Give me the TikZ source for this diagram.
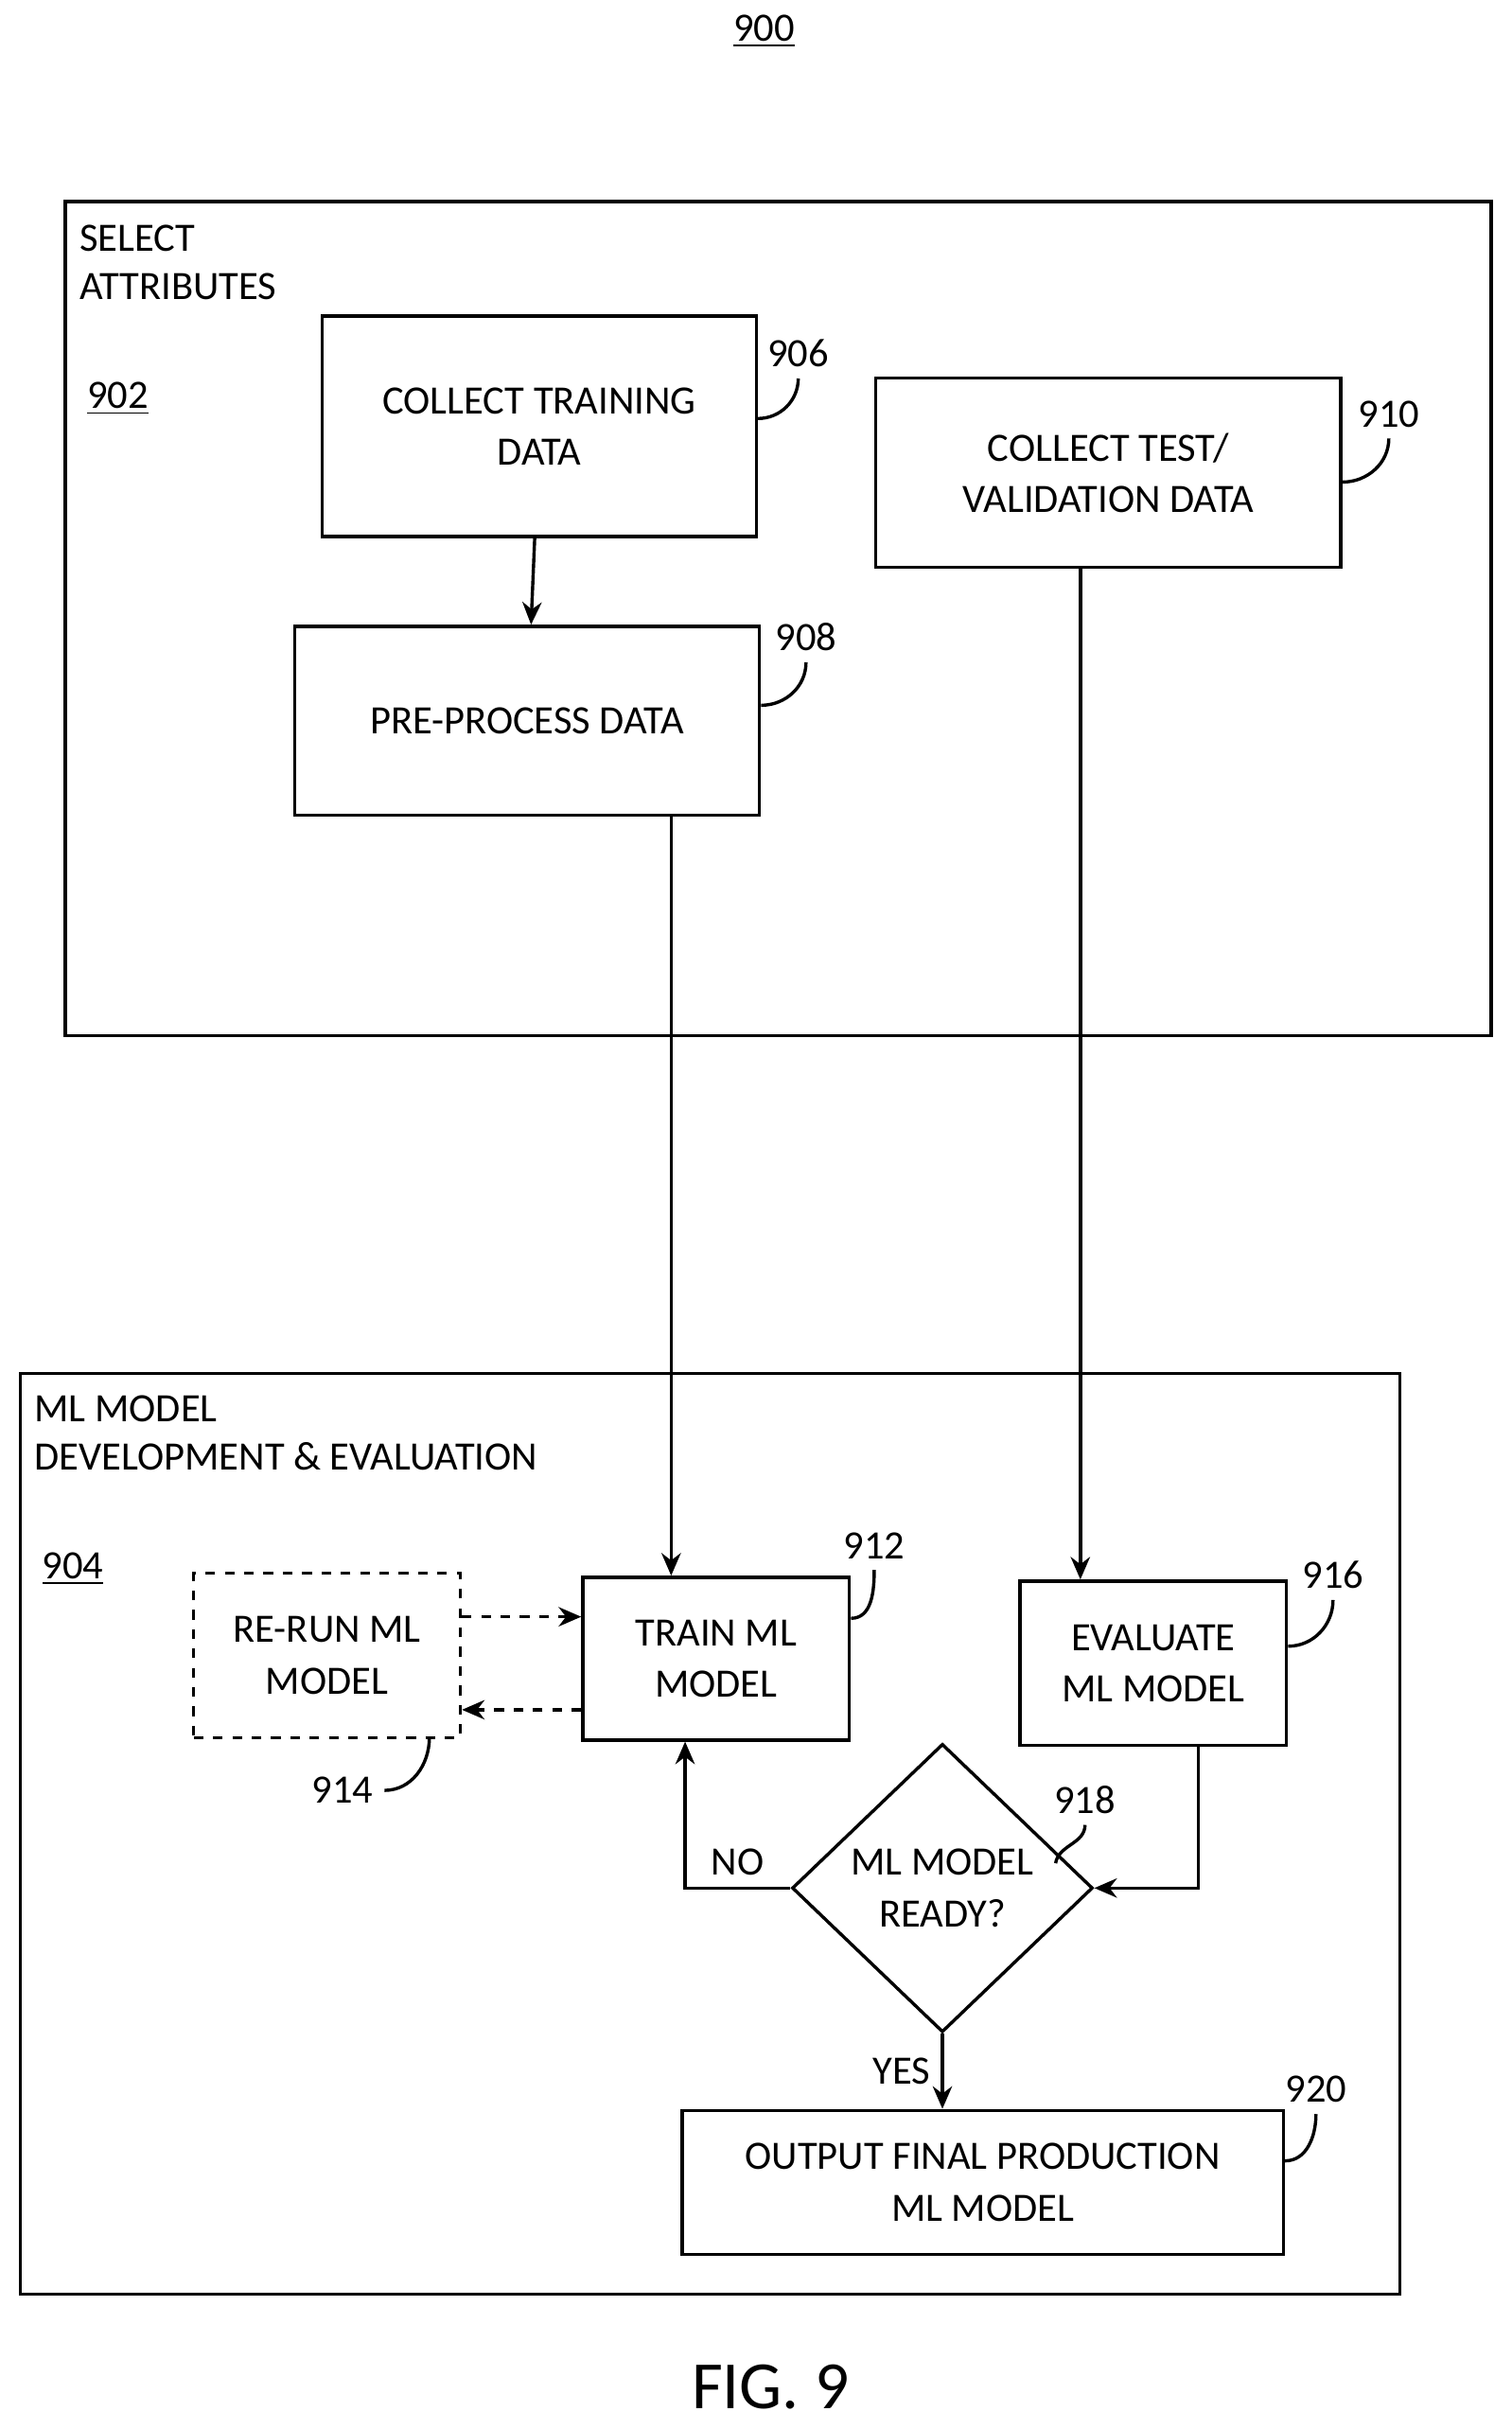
\documentclass[tikz,border=0pt]{standalone}
\usepackage{fontspec}
\setmainfont{Carlito}
\usetikzlibrary{arrows.meta,shapes.geometric,positioning}
\def\px{0.01692cm}
\tikzstyle{block}=[draw, line width=1pt, align=center, font=\fontsize{12.5}{16}\selectfont, inner sep=0pt]
\tikzstyle{line}=[draw, line width=1pt, -{Stealth[length=7pt,width=6pt]}]
\tikzstyle{lead}=[draw, line width=1pt]
\tikzstyle{tag}=[font=\fontsize{12.5}{15}\selectfont]
\begin{document}
\begin{tikzpicture}[x=0.01692cm,y=-0.01692cm]
	\useasboundingbox (0,0) rectangle (975,1567);
	
	% Frames
	\node[block, minimum width=920*\px, minimum height=538*\px] (frameA) at (502,399) {};
	\node[block, minimum width=890*\px, minimum height=594*\px] (frameB) at (458,1183) {};
	\node[tag, align=left, anchor=north west] (ttlA) at (44,138) {SELECT\\ATTRIBUTES};
	\node[tag, align=left, anchor=north west] (ttlB) at (15,893) {ML MODEL\\DEVELOPMENT \& EVALUATION};
	\node[tag] (n900) at (493,20) {\underline{900}};
	\node[tag] (n902) at (76,257) {\underline{902}};
	\node[tag] (n904) at (47,1012) {\underline{904}};
	\node[font=\fontsize{21}{24}\selectfont] (fig) at (497,1540) {FIG. 9};
	
	% Steps
	\node[block, minimum width=280*\px, minimum height=142*\px] (collect) at (348,275) {COLLECT TRAINING\\DATA};
	\node[block, minimum width=300*\px, minimum height=122*\px] (prep) at (340,465) {PRE-PROCESS DATA};
	\node[block, minimum width=300*\px, minimum height=122*\px] (testdata) at (715,305) {COLLECT TEST/\\VALIDATION DATA};
	\node[block, dashed, minimum width=172*\px, minimum height=106*\px] (rerun) at (211,1068) {RE-RUN ML\\MODEL};
	\node[block, minimum width=172*\px, minimum height=105*\px] (train) at (462,1070) {TRAIN ML\\MODEL};
	\node[block, minimum width=172*\px, minimum height=106*\px] (eval) at (744,1073) {EVALUATE\\ML MODEL};
	\node[block, diamond, aspect=1.04, minimum width=194*\px, minimum height=186*\px] (ready) at (608,1218) {ML MODEL\\READY?};
	\node[block, minimum width=388*\px, minimum height=93*\px] (final) at (634,1408) {OUTPUT FINAL PRODUCTION\\ML MODEL};
	
	% Reference numerals
	\foreach \txt/\x/\y in {906/515/228, 908/520/411, 910/896/267,
		912/564/997, 916/860/1016, 920/849/1348, 918/700/1161, 914/221/1155}
	\node[tag] (r\txt) at (\x,\y) {\txt};
	
	\draw[lead] (collect.east |- 0,270) to[out=0,in=-90] (r906.south);
	\draw[lead] (prep.east |- 0,455) to[out=0,in=-90] (r908.south);
	\draw[lead] (testdata.east |- 0,311) to[out=0,in=-90] (r910.south);
	\draw[lead] (train.east |- 0,1044) to[out=0,in=-90] (r912.south);
	\draw[lead] (eval.east |- 0,1062) to[out=0,in=-90] (r916.south);
	\draw[lead] (final.east |- 0,1394) to[out=0,in=-90] (r920.south);
	\draw[lead] (681,1202) to[out=80,in=-90] (r918.south);
	\draw[lead] (r914.east) to[out=0,in=-90] (277,1121);
	
	% Connectors
	\path[line] (collect) -- (prep);
	\path[line] (prep.south -| 433,0) -- (train.north -| 433,0);
	\path[line] (testdata.south -| 697,0) -- (eval.north -| 697,0);
	\path[line, dashed] (rerun.east |- 0,1043) -- (train.west |- 0,1043);
	\path[line, dashed] (train.west |- 0,1103) -- (rerun.east |- 0,1103);
	\path[line] (eval.south -| 773,0) |- (ready.east);
	\path[line] (ready.west) -| node[tag, pos=0.25, above] {NO} (train.south -| 442,0);
	\path[line] (ready.south) -- node[tag, left] {YES} (final.north -| ready.south);
\end{tikzpicture}
\end{document}
